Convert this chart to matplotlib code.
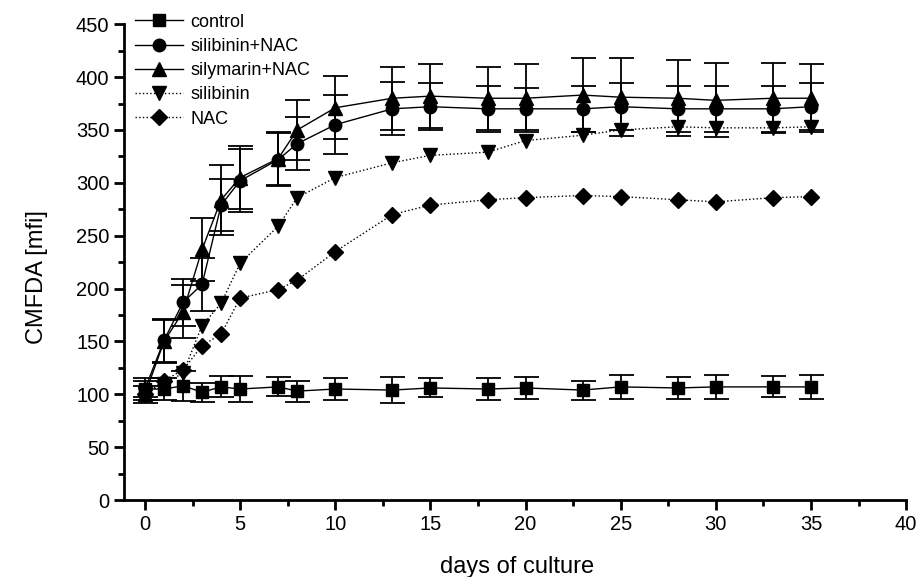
import numpy as np
import matplotlib
matplotlib.use("Agg")
import matplotlib.pyplot as plt
from matplotlib.ticker import MultipleLocator
from matplotlib.lines import Line2D

plt.rcParams['font.family'] = ['Liberation Sans', 'DejaVu Sans']

# days of culture
days = [0, 1, 2, 3, 4, 5, 7, 8, 10, 13, 15, 18, 20, 23, 25, 28, 30, 33, 35]

# CMFDA values (mfi)
control = [105, 105, 108, 102, 107, 105, 107, 103, 105, 104, 106, 105, 106, 104, 107, 106, 107, 107, 107]
control_err = [10, 10, 14, 9, 10, 12, 9, 10, 10, 12, 9, 10, 10, 9, 11, 10, 11, 10, 11]

silibinin_nac = [105, 151, 187, 204, 279, 302, 322, 337, 355, 370, 372, 370, 370, 370, 372, 370, 370, 370, 372]
silibinin_nac_err = [8, 20, 22, 25, 25, 30, 25, 25, 28, 25, 22, 22, 20, 22, 22, 22, 22, 22, 22]

silymarin_nac = [100, 150, 178, 237, 284, 305, 323, 350, 371, 380, 382, 380, 380, 383, 381, 380, 378, 380, 380]
silymarin_nac_err = [8, 20, 25, 30, 33, 30, 25, 28, 30, 30, 30, 30, 32, 35, 37, 36, 35, 33, 32]

silibinin = [100, 110, 120, 165, 186, 224, 259, 286, 305, 319, 326, 329, 340, 345, 350, 353, 352, 352, 353]

nac = [100, 113, 123, 146, 157, 191, 199, 208, 235, 270, 279, 284, 286, 288, 287, 284, 282, 286, 287]

labels = ['control', 'silibinin+NAC', 'silymarin+NAC', 'silibinin', 'NAC']
markers = ['s', 'o', '^', 'v', 'D']
sizes = [8, 9, 10, 10, 8]
styles = ['-', '-', '-', ':', ':']

fig = plt.figure(figsize=(9.19, 5.77), dpi=100)
ax = fig.add_axes([0.135, 0.1334, 0.851, 0.8246])

ekw = dict(color='black', ecolor='black', elinewidth=1.3, capsize=9, capthick=1.3, lw=1.0)

ax.errorbar(days, control, yerr=control_err, marker='s', ms=8, ls='-', **ekw)
ax.errorbar(days, silibinin_nac, yerr=silibinin_nac_err, marker='o', ms=9, ls='-', **ekw)
ax.errorbar(days, silymarin_nac, yerr=silymarin_nac_err, marker='^', ms=10, ls='-', **ekw)
ax.plot(days, silibinin, color='black', marker='v', ms=10, ls=':', lw=1.0)
ax.plot(days, nac, color='black', marker='D', ms=8, ls=':', lw=1.0)

ax.set_xlim(-1.1, 40)
ax.set_ylim(0, 450)
ax.xaxis.set_major_locator(MultipleLocator(5))
ax.xaxis.set_minor_locator(MultipleLocator(2.5))
ax.yaxis.set_major_locator(MultipleLocator(50))
ax.yaxis.set_minor_locator(MultipleLocator(25))
ax.tick_params(which='major', direction='out', length=7, width=2, labelsize=14.5)
ax.tick_params(which='minor', direction='out', length=4, width=2)

for side in ['top', 'right']:
    ax.spines[side].set_visible(False)
for side in ['left', 'bottom']:
    ax.spines[side].set_linewidth(2)

ax.set_xlabel('days of culture', fontsize=17, va='center')
ax.xaxis.set_label_coords(0.5026, -0.141)
ax.set_ylabel('CMFDA [mfi]', fontsize=17, va='center', ha='center')
ax.yaxis.set_label_coords(-0.111, 0.469)

handles = [Line2D([], [], color='black', marker=m, ms=s, ls=st, lw=1.0)
           for m, s, st in zip(markers, sizes, styles)]
ax.legend(handles, labels, loc='upper left', bbox_to_anchor=(0.014, 1.022), frameon=False,
          fontsize=13, handlelength=2.65, handletextpad=0.4, labelspacing=0.4,
          borderaxespad=0, borderpad=0)

fig.savefig('out.png', dpi=100)
